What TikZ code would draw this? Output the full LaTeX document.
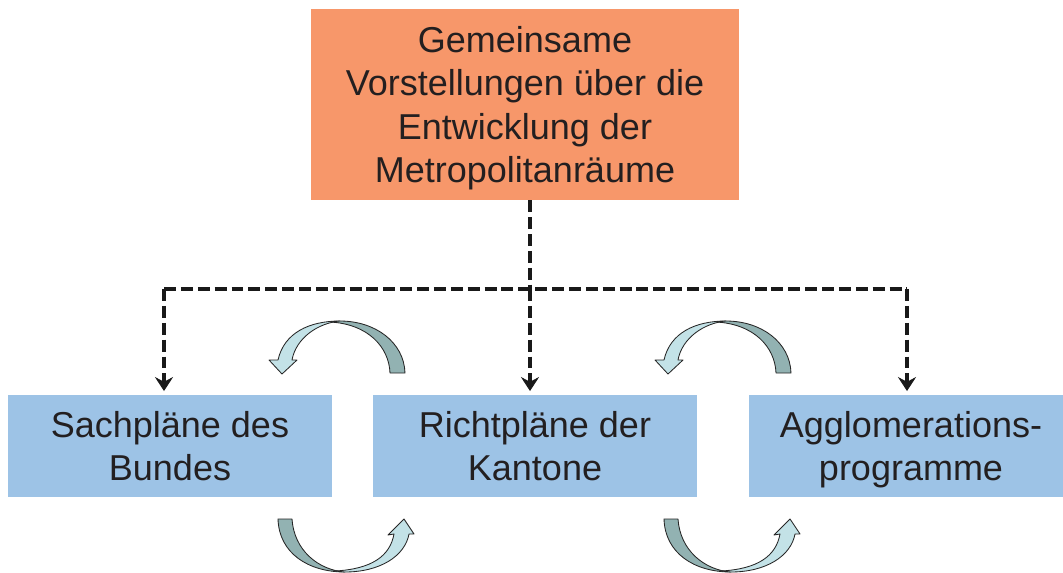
\documentclass[tikz,border=0pt]{standalone}
\usepackage{fontspec}
\setmainfont{Liberation Sans}
\usetikzlibrary{arrows.meta}
\definecolor{topc}{HTML}{F7976A}
\definecolor{boxc}{HTML}{9DC3E6}
\definecolor{txt}{HTML}{231F20}
\definecolor{ribl}{HTML}{C3E2E7}
\definecolor{ribd}{HTML}{92B2B2}
\tikzset{
 box/.style={fill=boxc, inner sep=0pt, minimum width=8.1cm, minimum height=2.55cm, align=center, text=txt, text depth=0pt, font=\fontsize{25.6}{30.8}\selectfont},
 topbox/.style={box, fill=topc, minimum width=10.7cm, minimum height=4.775cm},
 link/.style={draw=black!90, line width=2.7pt, dash pattern=on 8.5pt off 3.5pt},
 linkarrow/.style={link, -{Stealth[length=10pt,width=13pt,inset=3.5pt,line width=0.6pt]}},
 ribdark/.style={fill=ribd, draw=black!85, line width=0.6pt, line join=round},
 riblight/.style={fill=ribl, draw=black!85, line width=0.6pt, line join=round},
}
\begin{document}
\begin{tikzpicture}[x=0.025cm,y=-0.025cm]
\path[use as bounding box, clip] (0,0) rectangle (1063,572);
\fill[white] (0,0) rectangle (1063,572);

\node[topbox] (top) at (525,104.5) {Gemeinsame\\Vorstellungen über die\\Entwicklung der\\Metropolitanräume};
\node[box] (b1) at (170,446) {Sachpläne des\\Bundes};
\node[box] (b2) at (535,446) {Richtpläne der\\Kantone};
\node[box] (b3) at (911,446) {Agglomerations-\\programme};

\coordinate (jm) at (530,289);
\coordinate (jl) at (164,289);
\coordinate (jr) at (907,289);
\coordinate (el) at (164,391);
\coordinate (em) at (530,391);
\coordinate (er) at (907,391);

\draw[link] (top.south -| jm) -- (jm);
\draw[link] (jl) -- (jr);
\draw[linkarrow] (jl) -- (el);
\draw[linkarrow] (jm) -- (em);
\draw[linkarrow] (jr) -- (er);

\foreach \dx in {0,386}{
\begin{scope}[shift={(\dx,0)}]
 % top ribbon
 \path[riblight] (278,360) .. controls (284,333) and (309,321) .. (340,321)
   .. controls (318,323) and (296,338) .. (292,360) -- (297,360) -- (282,374) -- (269,360) -- cycle;
 \path[ribdark] (340,321) .. controls (375,321) and (404,342) .. (405,373) -- (390,373)
   .. controls (389,347) and (368,324) .. (330,322) -- cycle;
 % bottom ribbon
 \path[ribdark] (278,519) .. controls (279,553) and (308,572) .. (345,572)
   .. controls (318,570) and (294,550) .. (292,519) -- cycle;
 \path[riblight] (345,572) .. controls (380,572) and (405,556) .. (409,534) -- (414,534) -- (404,519) -- (388,535) -- (394,534)
   .. controls (390,556) and (372,569) .. (335,571) -- cycle;
\end{scope}
}
\end{tikzpicture}
\end{document}
